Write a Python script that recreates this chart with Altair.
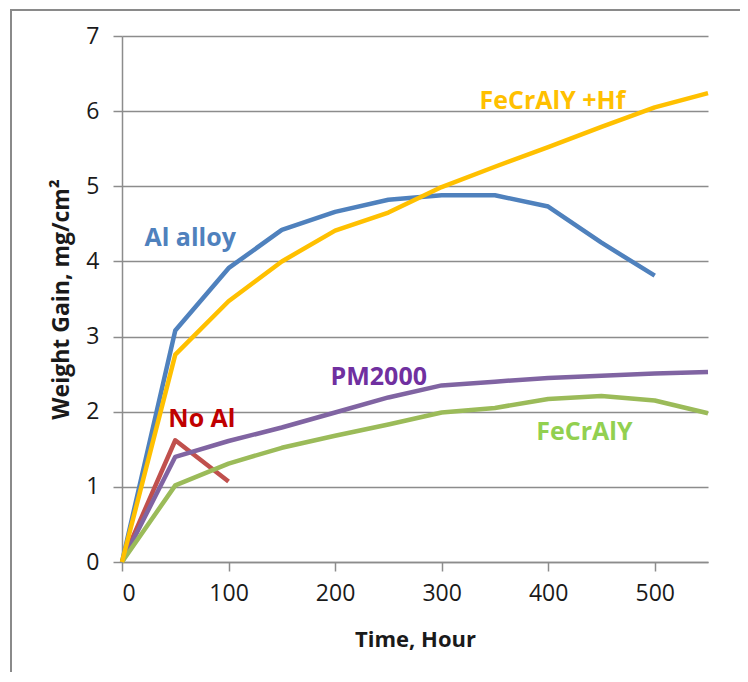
import altair as alt
import pandas as pd

# ---- data ----
time = [0, 50, 100, 150, 200, 250, 300, 350, 400, 450, 500, 550]
al_alloy = [0, 3.08, 3.91, 4.42, 4.66, 4.82, 4.88, 4.88, 4.73, 4.25, 3.81]
fecraly_hf = [0, 2.76, 3.47, 4.00, 4.41, 4.65, 4.99, 5.26, 5.52, 5.79, 6.05, 6.24]
pm2000 = [0, 1.40, 1.61, 1.79, 1.99, 2.19, 2.35, 2.40, 2.45, 2.48, 2.51, 2.53]
fecraly = [0, 1.02, 1.31, 1.52, 1.68, 1.83, 1.99, 2.05, 2.17, 2.21, 2.15, 1.98]
no_al = [0, 1.62, 1.07]

# drawing order: first drawn is at the bottom
series_names = ["Al alloy", "No Al", "PM2000", "FeCrAlY", "FeCrAlY +Hf"]
series_values = [al_alloy, no_al, pm2000, fecraly, fecraly_hf]
line_colors = ["#4F81BD", "#C0504D", "#8064A2", "#9BBB59", "#FFC000"]

label_text = ["Al alloy", "FeCrAlY +Hf", "PM2000", "FeCrAlY", "No Al"]
label_x = [64, 404, 241, 434, 75]
label_y = [4.20, 6.03, 2.36, 1.63, 1.80]
label_colors = ["#4F81BD", "#FFC000", "#7030A0", "#92D050", "#C00000"]

x_ticks = [0, 100, 200, 300, 400, 500]
y_ticks = [0, 1, 2, 3, 4, 5, 6, 7]

rows = []
for name, vals in zip(series_names, series_values):
    for t, v in zip(time, vals):
        rows.append({"series": name, "time": t, "gain": v})
df = pd.DataFrame(rows)

labels = pd.DataFrame({"text": label_text, "time": label_x, "gain": label_y,
                       "color": label_colors})

FONT = "Open Sans"
GRID = "#8c8c8c"
INK = "#1a1a1a"

xscale = alt.Scale(domain=[0, 550], nice=False)
yscale = alt.Scale(domain=[0, 7], nice=False)

x_axis = alt.Axis(values=x_ticks, grid=False, title="Time, Hour", format="d",
                  domainColor=GRID, domainWidth=1.5, tickColor=GRID,
                  tickWidth=1.5, tickSize=9, labelFont=FONT,
                  labelFontSize=23, labelColor=INK, labelPadding=11,
                  titleFont=FONT, titleFontSize=22, titleFontWeight="bold",
                  titleColor=INK, titleBaseline="alphabetic",
                  titleX=293, titleY=84, titleAlign="center")
y_axis = alt.Axis(values=y_ticks, grid=True, gridColor=GRID, gridWidth=1.5,
                  title="Weight Gain, mg/cm²", format="d",
                  domainColor=GRID, domainWidth=1.5, tickColor=GRID,
                  tickWidth=1.5, tickSize=9, labelFont=FONT,
                  labelFontSize=23, labelColor=INK, labelPadding=14,
                  titleFont=FONT, titleFontSize=23, titleFontWeight="bold",
                  titleColor=INK, titleBaseline="alphabetic",
                  titleX=-54, titleY=263, titleAngle=270,
                  titleAlign="center")

frame = alt.Chart(pd.DataFrame({"k": [0]})).mark_rect(
    fillOpacity=0, stroke="#8a8a8a", strokeWidth=2
).encode(
    x=alt.value(-111), x2=alt.value(1000), y=alt.value(-26), y2=alt.value(1000)
)

lines = alt.Chart(df).mark_line(strokeWidth=4.5, strokeJoin="round").encode(
    x=alt.X("time:Q", scale=xscale, axis=x_axis),
    y=alt.Y("gain:Q", scale=yscale, axis=y_axis),
    color=alt.Color("series:N", sort=series_names,
                    scale=alt.Scale(domain=series_names, range=line_colors),
                    legend=None),
    order=alt.Order("time:Q"),
)

texts = alt.Chart(labels).mark_text(
    font=FONT, fontSize=25, fontWeight="bold", align="center", baseline="alphabetic"
).encode(
    x=alt.X("time:Q", scale=xscale, axis=x_axis),
    y=alt.Y("gain:Q", scale=yscale, axis=y_axis),
    text="text:N",
    color=alt.Color("color:N", scale=None),
)

chart = alt.layer(frame, lines, texts).properties(
    width=586, height=526,
    padding={"left": 114, "top": 28, "right": 32, "bottom": 110},
    autosize=alt.AutoSizeParams(type="none"),
    background="white",
).configure_view(strokeWidth=0)

chart.save("out.html", embed_options={"renderer": "svg", "actions": False})
